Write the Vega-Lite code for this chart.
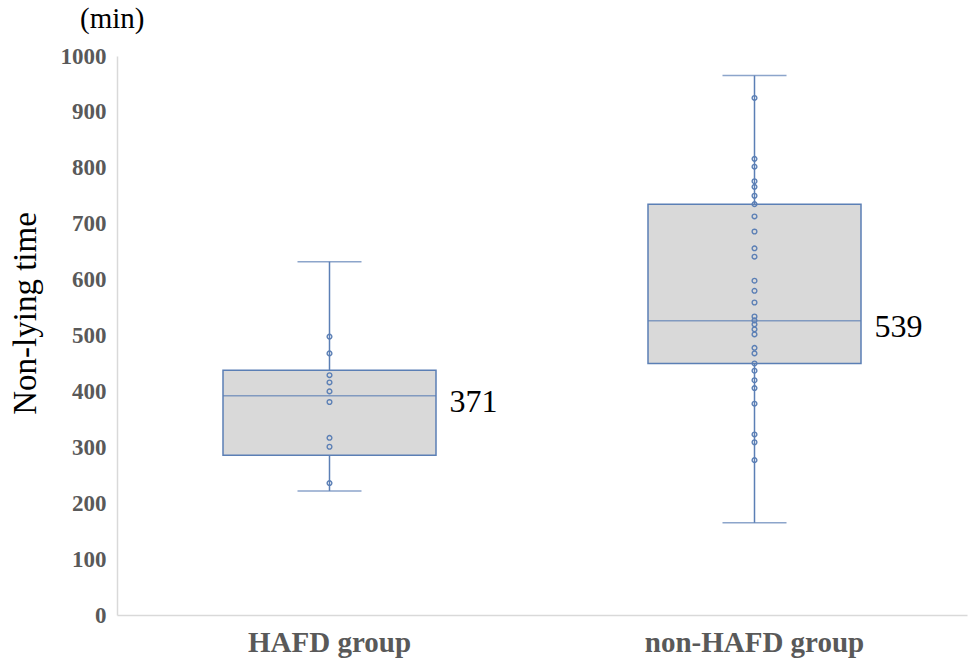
{
  "$schema": "https://vega.github.io/schema/vega-lite/v6.json",
  "autosize": "none",
  "width": 850,
  "height": 559,
  "padding": {"left": 117, "top": 56, "right": 2, "bottom": 50},
  "background": "white",
  "title": {
    "text": "(min)",
    "anchor": "start",
    "frame": "group",
    "dx": -37,
    "dy": 26,
    "offset": 14,
    "baseline": "alphabetic",
    "font": "Liberation Serif",
    "fontSize": 29,
    "fontWeight": "normal",
    "color": "#000000"
  },
  "config": {
    "view": {"stroke": null},
    "title": {"font": "Liberation Serif", "fontWeight": "normal"},
    "axis": {
      "domainColor": "#d9d9d9",
      "domainWidth": 1.5,
      "ticks": false,
      "grid": false,
      "labelFont": "Liberation Serif",
      "labelFontWeight": "bold",
      "labelColor": "#595959",
      "labelLimit": 0
    }
  },
  "datasets": {
    "summary": [
      {"group": "HAFD group", "lower": 222, "q1": 286, "median": 392, "q3": 438, "upper": 632, "label": "371"},
      {"group": "non-HAFD group", "lower": 165, "q1": 450, "median": 526.5, "q3": 735, "upper": 965, "label": "539"}
    ],
    "points": [
      {"group": "HAFD group", "value": 498},
      {"group": "HAFD group", "value": 468},
      {"group": "HAFD group", "value": 429},
      {"group": "HAFD group", "value": 416},
      {"group": "HAFD group", "value": 400},
      {"group": "HAFD group", "value": 381},
      {"group": "HAFD group", "value": 317},
      {"group": "HAFD group", "value": 301},
      {"group": "HAFD group", "value": 236},
      {"group": "non-HAFD group", "value": 925},
      {"group": "non-HAFD group", "value": 816},
      {"group": "non-HAFD group", "value": 802},
      {"group": "non-HAFD group", "value": 776},
      {"group": "non-HAFD group", "value": 766},
      {"group": "non-HAFD group", "value": 750},
      {"group": "non-HAFD group", "value": 735},
      {"group": "non-HAFD group", "value": 713},
      {"group": "non-HAFD group", "value": 686},
      {"group": "non-HAFD group", "value": 656},
      {"group": "non-HAFD group", "value": 641},
      {"group": "non-HAFD group", "value": 598},
      {"group": "non-HAFD group", "value": 580},
      {"group": "non-HAFD group", "value": 559},
      {"group": "non-HAFD group", "value": 534},
      {"group": "non-HAFD group", "value": 527},
      {"group": "non-HAFD group", "value": 520},
      {"group": "non-HAFD group", "value": 511},
      {"group": "non-HAFD group", "value": 502},
      {"group": "non-HAFD group", "value": 478},
      {"group": "non-HAFD group", "value": 468},
      {"group": "non-HAFD group", "value": 450},
      {"group": "non-HAFD group", "value": 437},
      {"group": "non-HAFD group", "value": 420},
      {"group": "non-HAFD group", "value": 406},
      {"group": "non-HAFD group", "value": 378},
      {"group": "non-HAFD group", "value": 323},
      {"group": "non-HAFD group", "value": 309},
      {"group": "non-HAFD group", "value": 277}
    ]
  },
  "encoding": {
    "x": {
      "field": "group",
      "type": "nominal",
      "sort": ["HAFD group", "non-HAFD group"],
      "scale": {"paddingInner": 0, "paddingOuter": 0},
      "axis": {
        "title": null,
        "labelAngle": 0,
        "labelFontSize": 29,
        "labelPadding": 13
      }
    }
  },
  "layer": [
    {
      "data": {"name": "summary"},
      "mark": {"type": "rule", "color": "#5b7fb5", "strokeWidth": 1.5},
      "encoding": {
        "y": {
          "field": "lower",
          "type": "quantitative",
          "scale": {"domain": [0, 1000], "nice": false},
          "axis": {
            "title": "Non-lying time",
            "titleFont": "Liberation Serif",
            "titleFontSize": 33,
            "titleFontWeight": "normal",
            "titleColor": "#000000",
            "titleAngle": -90,
            "titleBaseline": "middle",
            "titleX": -92,
            "titleY": 257,
            "values": [0, 100, 200, 300, 400, 500, 600, 700, 800, 900, 1000],
            "format": "d",
            "labelFontSize": 23,
            "labelPadding": 11
          }
        },
        "y2": {"field": "q1"}
      }
    },
    {
      "data": {"name": "summary"},
      "mark": {"type": "rule", "color": "#5b7fb5", "strokeWidth": 1.5},
      "encoding": {
        "y": {"field": "q3", "type": "quantitative"},
        "y2": {"field": "upper"}
      }
    },
    {
      "data": {"name": "summary"},
      "mark": {"type": "bar", "size": 213, "fill": "#d9d9d9", "stroke": "#5b7fb5", "strokeWidth": 1.5},
      "encoding": {
        "y": {"field": "q1", "type": "quantitative"},
        "y2": {"field": "q3"}
      }
    },
    {
      "data": {"name": "summary"},
      "mark": {"type": "tick", "size": 213, "thickness": 1.5, "color": "#5b7fb5"},
      "encoding": {
        "y": {"field": "median", "type": "quantitative"}
      }
    },
    {
      "data": {"name": "summary"},
      "mark": {"type": "tick", "size": 64, "thickness": 1.5, "color": "#5b7fb5"},
      "encoding": {
        "y": {"field": "lower", "type": "quantitative"}
      }
    },
    {
      "data": {"name": "summary"},
      "mark": {"type": "tick", "size": 64, "thickness": 1.5, "color": "#5b7fb5"},
      "encoding": {
        "y": {"field": "upper", "type": "quantitative"}
      }
    },
    {
      "data": {"name": "points"},
      "mark": {"type": "point", "shape": "circle", "filled": false, "size": 22, "strokeWidth": 1.4, "color": "#5b7fb5", "opacity": 1},
      "encoding": {
        "y": {"field": "value", "type": "quantitative"}
      }
    },
    {
      "data": {"name": "summary"},
      "mark": {"type": "text", "align": "left", "baseline": "alphabetic", "dx": 120, "dy": 16, "font": "Liberation Serif", "fontSize": 32, "color": "#000000"},
      "encoding": {
        "y": {"field": "median", "type": "quantitative"},
        "text": {"field": "label"}
      }
    }
  ]
}
